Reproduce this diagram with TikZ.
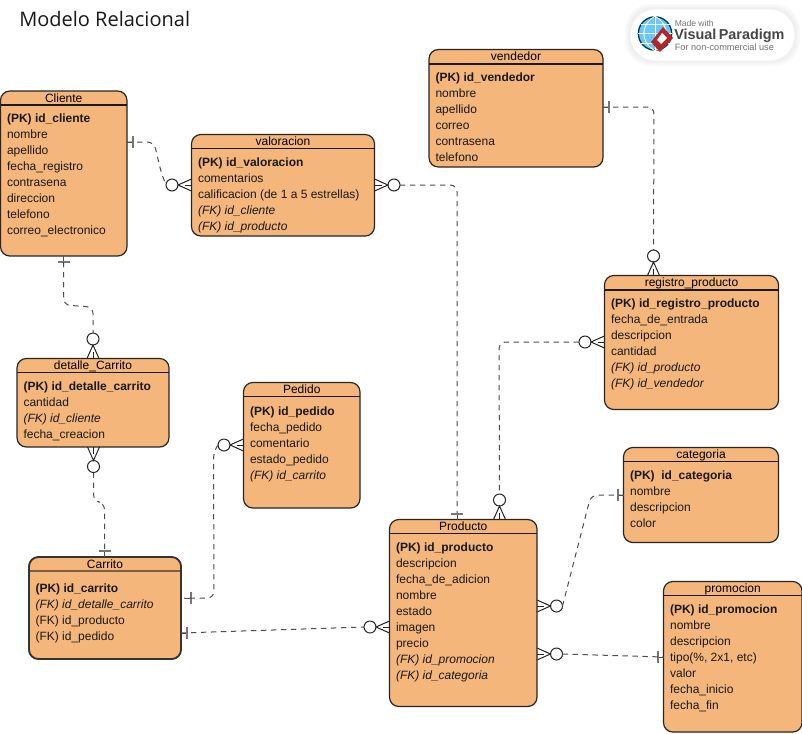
\documentclass[tikz,border=0pt]{standalone}
\usepackage{fontspec}
\setmainfont{Liberation Sans}
\newfontfamily\titlefont{Open Sans}
\usetikzlibrary{calc}
\definecolor{entfill}{HTML}{F4B67A}
\definecolor{barcol}{HTML}{777777}
\definecolor{linecol}{HTML}{222222}
\definecolor{selhead}{HTML}{7A5F45}
\tikzset{
  entbox/.style={draw=black!85,line width=.9pt,fill=entfill,rounded corners=7pt,inner sep=0pt,outer sep=0pt},
  headline/.style={draw=black!90,line width=.8pt},
  enttitle/.style={font=\fontsize{9}{12}\selectfont,anchor=base,inner sep=0pt},
  entbody/.style={font=\fontsize{9}{12}\selectfont,align=left,anchor=north west,inner sep=0pt,text=black!90},
  conn/.style={draw=linecol!80,line width=.75pt,dash pattern=on 4pt off 3.5pt,rounded corners=5pt},
  ringnode/.style={circle,draw=black!85,fill=white,line width=.75pt,minimum size=9pt,inner sep=0pt,outer sep=0pt},
  forkline/.style={draw=black!85,line width=.75pt},
  barline/.style={draw=barcol,line width=1.5pt},
  stubline/.style={draw=black!70,line width=.75pt},
}
% [extra body shift], name, x1, y1, x2, y2, header y, title, body
\newcommand\entity[9][0]{%
  \node[entbox,minimum width={(#5-#3)*0.75pt},minimum height={(#6-#4)*0.75pt}] (#2) at ({(#3+#5)/2},{(#4+#6)/2}) {};
  \draw[headline] (#2.west |- 0,#7) -- (#2.east |- 0,#7);
  \node[enttitle] (#2-title) at ({(#3+#5)/2},{#4+11}) {#8};
  \node[entbody] (#2-body) at ({#3+6.3},{#7+8.8+#1}) {#9};
}
% ring name, edge x, edge y, dx, dy
\newcommand\crow[5]{%
  \node[ringnode] (#1) at ({#2+19.5*(#4)},{#3+19.5*(#5)}) {};
  \draw[forkline] ({#2+6*(#5)},{#3+6*(#4)}) -- ({#2+13.5*(#4)},{#3+13.5*(#5)}) -- ({#2-6*(#5)},{#3-6*(#4)});
  \draw[forkline] (#2,#3) -- ({#2+7*(#4)},{#3+7*(#5)});
}
% edge x, edge y, dx, dy
\newcommand\onebar[4]{%
  \draw[stubline] (#1,#2) -- ({#1+6*(#3)},{#2+6*(#4)});
  \draw[barline] ({#1+6*(#3)+6*(#4)},{#2+6*(#4)+6*(#3)}) -- ({#1+6*(#3)-6*(#4)},{#2+6*(#4)-6*(#3)});
}
\newcommand\fk[1]{\textit{(FK) #1}}
\begin{document}
\begin{tikzpicture}[x=0.75pt,y=-0.75pt]
\useasboundingbox (0,0) rectangle (802,733);
\fill[white] (0,0) rectangle (802,733);
\node[anchor=base west,inner sep=0pt,font=\titlefont\fontsize{15}{18}\selectfont,text=black!90] (pagetitle) at (19,26) {Modelo Relacional};

% logo
\foreach \w in {5,3.5,2}{\fill[black,rounded corners=19pt,opacity=0.02] (630-\w,9-\w) rectangle (795+\w,61+\w);}
\node[fill=white,rounded corners=19pt,minimum width=123pt,minimum height=38.5pt,inner sep=0pt] (logopill) at (712.5,35) {};
\node[circle,draw=black!50!teal,fill=blue!35!cyan!60!white,line width=1pt,minimum size=25pt,inner sep=0pt] (globe) at (655,33.5) {};
\draw[white,line width=.7pt] (globe.north) .. controls (640,25) and (640,42) .. (globe.south);
\draw[white,line width=.7pt] (globe.north) .. controls (670,25) and (670,42) .. (globe.south);
\draw[white,line width=.7pt] (globe.north) -- (globe.south) (globe.west) -- (globe.east);
\draw[white,line width=.7pt] (640.5,24) -- (669.5,24) (640.5,43) -- (669.5,43);
\fill[red!65!black!85!white] (663,27) -- (673,38) -- (660,52) -- (651,42) -- cycle;
\fill[white] (662,33) -- (667,38) -- (661,44) -- (657,40) -- cycle;
\node[anchor=base west,inner sep=0pt,font=\fontsize{6.4}{7}\selectfont,text=black!55] (logo1) at (674.5,26) {Made with};
\node[anchor=base west,inner sep=0pt,font=\bfseries\fontsize{10.8}{12}\selectfont,text=black!72] (logo2) at (674,39.5) {Visual\,Paradigm};
\node[anchor=base west,inner sep=0pt,font=\fontsize{6.9}{7}\selectfont,text=black!55] (logo3) at (674.5,50.5) {For non-commercial use};

% entities
\entity{Cliente}{0.5}{91}{127}{256}{105}{Cliente}{\textbf{(PK) id\_cliente}\\nombre\\apellido\\fecha\_registro\\contrasena\\direccion\\telefono\\correo\_electronico}
\entity{valoracion}{191.5}{134.5}{374.5}{236}{148.5}{valoracion}{\textbf{(PK) id\_valoracion}\\comentarios\\calificacion (de 1 a 5 estrellas)\\\fk{id\_cliente}\\\fk{id\_producto}}
\entity{vendedor}{429}{49.5}{603}{167}{64}{vendedor}{\textbf{(PK) id\_vendedor}\\nombre\\apellido\\correo\\contrasena\\telefono}
\entity{registro}{604.5}{275.5}{778.5}{409.5}{290}{registro\_producto}{\textbf{(PK) id\_registro\_producto}\\fecha\_de\_entrada\\descripcion\\cantidad\\\fk{id\_producto}\\\fk{id\_vendedor}}
\entity{detalle}{17}{358.5}{169}{447}{372.5}{detalle\_Carrito}{\textbf{(PK) id\_detalle\_carrito}\\cantidad\\\fk{id\_cliente}\\fecha\_creacion}
\entity[1]{Pedido}{243.5}{382.5}{360}{508}{396.5}{Pedido}{\textbf{(PK) id\_pedido}\\fecha\_pedido\\comentario\\estado\_pedido\\\fk{id\_carrito}}
\entity[4]{Carrito}{29}{557}{181}{659}{571}{Carrito}{\textbf{(PK) id\_carrito}\\\fk{id\_detalle\_carrito}\\(FK) id\_producto\\(FK) id\_pedido}
\draw[draw=selhead,line width=1.4pt] (Carrito.west |- 0,571) -- (Carrito.east |- 0,571);
\draw[draw=black!80,line width=1.3pt,rounded corners=7pt] (Carrito.north west) rectangle (Carrito.south east);
\entity{Producto}{389.5}{519.5}{537}{706.5}{533.5}{Producto}{\textbf{(PK) id\_producto}\\descripcion\\fecha\_de\_adicion\\nombre\\estado\\imagen\\precio\\\fk{id\_promocion}\\\fk{id\_categoria}}
\entity{categoria}{623.5}{447.5}{778.5}{542.5}{461.5}{categoria}{\textbf{(PK)\ \ id\_categoria}\\nombre\\descripcion\\color}
\entity{promocion}{663.5}{581.5}{802}{732}{595.5}{promocion}{\textbf{(PK) id\_promocion}\\nombre\\descripcion\\tipo(\%, 2x1, etc)\\valor\\fecha\_inicio\\fecha\_fin}

% crow's feet and bars
\crow{r1}{191.5}{185}{-1}{0}
\onebar{127}{142}{1}{0}
\crow{r2}{93}{358.5}{0}{-1}
\onebar{63.5}{256}{0}{1}
\crow{r3}{93.5}{447}{0}{1}
\onebar{104.5}{557}{0}{-1}
\crow{r4}{374.5}{185}{1}{0}
\onebar{457}{519.5}{0}{-1}
\crow{r5}{653.5}{275.5}{0}{-1}
\onebar{603}{107}{1}{0}
\crow{r6}{604.5}{342}{-1}{0}
\crow{r7}{499.5}{519.5}{0}{-1}
\crow{r8}{243.5}{445}{-1}{0}
\onebar{184.5}{598}{1}{0}
\crow{r9}{389.5}{627}{-1}{0}
\onebar{181}{633}{1}{0}
\crow{r10}{537}{606}{1}{0}
\onebar{623.5}{495}{-1}{0}
\crow{r11}{537}{654}{1}{0}
\onebar{663.5}{657}{-1}{0}

% connectors
\draw[conn] (Cliente.east |- 0,142) -- (154,142) -- (161,172) -- (r1.west);
\draw[conn] (Cliente.south |- 0,262) -- (63.5,305) -- (93,307) -- (r2.north);
\draw[conn] (r3.south) -- (93.5,501) -- (104.5,503) -- (Carrito.north -| 104.5,0);
\draw[conn] (r4.east) -- (457,185) -- (457,513);
\draw[conn] (vendedor.east |- 0,107) -- (654,107) -- (r5.north);
\draw[conn] (r6.west) -- (499,342) -- (r7.north);
\draw[conn] (r8.west) -- (213.5,452) -- (214,598) -- (184,598);
\draw[conn] (Carrito.east |- 0,633) -- (r9.west);
\draw[conn] (r10.east) -- (591,495) -- (categoria.west |- 0,495);
\draw[conn] (r11.east) -- (promocion.west |- 0,657);
\end{tikzpicture}
\end{document}
